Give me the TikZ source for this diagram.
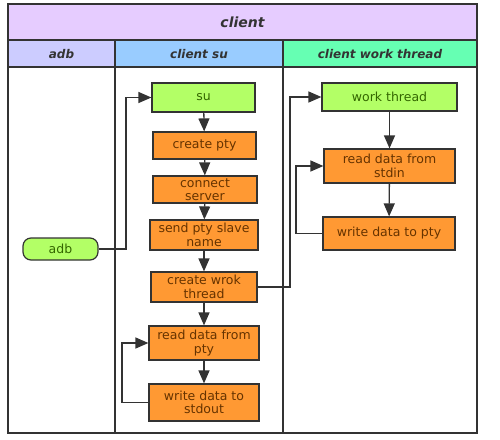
\documentclass[tikz,border=0pt]{standalone}
\usepackage{fontspec}
\setmainfont{DejaVu Sans}
\usetikzlibrary{arrows.meta}

\definecolor{titlebg}{HTML}{E6CCFF}
\definecolor{adbbg}{HTML}{CCCCFF}
\definecolor{subg}{HTML}{99CCFF}
\definecolor{workbg}{HTML}{66FFB3}
\definecolor{stepgreen}{HTML}{B3FF66}
\definecolor{steporange}{HTML}{FF9933}
\definecolor{framegray}{HTML}{333333}
\definecolor{greentext}{HTML}{336600}
\definecolor{orangetext}{HTML}{663300}

\begin{document}
\begin{tikzpicture}[x=1pt, y=-1pt,
    greenbox/.style={draw=framegray, line width=1.2pt, fill=stepgreen,
      text=greentext, font=\fontsize{12.5}{13.5}\selectfont, align=center,
      inner sep=0pt},
    orangebox/.style={draw=framegray, line width=1.2pt, fill=steporange,
      text=orangetext, font=\fontsize{12.5}{13.5}\selectfont, align=center,
      inner sep=0pt},
    flow/.style={draw=framegray, line width=1.3pt,
      -{Triangle[length=13pt, width=11pt]}},
    lanehead/.style={font=\fontsize{12}{13}\selectfont\bfseries\itshape,
      text=framegray}
  ]
  \useasboundingbox (0,0) rectangle (500,439);

  % Title band and lane headers
  \fill[titlebg] (8,4) rectangle (477,40);
  \fill[adbbg] (8,40) rectangle (115,67);
  \fill[subg] (115,40) rectangle (283,67);
  \fill[workbg] (283,40) rectangle (477,67);
  \node[font=\fontsize{14}{15}\selectfont\bfseries\itshape, text=framegray]
    (title) at (242.5,22) {client};
  \node[lanehead] (adblane) at (61.5,54) {adb};
  \node[lanehead] (sulane) at (199,54) {client su};
  \node[lanehead] (worklane) at (380,54) {client work thread};

  % Frame and lane borders
  \draw[framegray, line width=1.5pt] (8,4) rectangle (477,433);
  \draw[framegray, line width=1.5pt] (8,40) -- (477,40);
  \draw[framegray, line width=1.5pt] (8,67) -- (477,67);
  \draw[framegray, line width=1.5pt] (115,40) -- (115,433);
  \draw[framegray, line width=1.5pt] (283,40) -- (283,433);

  % adb lane
  \node[greenbox, rounded corners=8pt, minimum width=75pt, minimum height=22pt]
    (adb) at (60.5,249) {adb};

  % client su lane
  \node[greenbox, minimum width=103pt, minimum height=29pt]
    (su) at (203.5,97.5) {su};
  \node[orangebox, minimum width=103pt, minimum height=27pt]
    (cpty) at (204.5,145.5) {create pty};
  \node[orangebox, minimum width=104pt, minimum height=27pt]
    (conn) at (205,189.5) {connect\\server};
  \node[orangebox, minimum width=108pt, minimum height=30pt]
    (slave) at (204,235) {send pty slave\\name};
  \node[orangebox, minimum width=106pt, minimum height=30pt]
    (cwt) at (204,287) {create wrok\\thread};
  \node[orangebox, minimum width=110pt, minimum height=34pt]
    (rpty) at (204,343) {read data from\\pty};
  \node[orangebox, minimum width=110pt, minimum height=37pt]
    (wout) at (204,402.5) {write data to\\stdout};

  % client work thread lane
  \node[greenbox, minimum width=135pt, minimum height=28pt]
    (wt) at (389.5,97) {work thread};
  \node[orangebox, minimum width=131pt, minimum height=34pt]
    (rin) at (389.5,166) {read data from\\stdin};
  \node[orangebox, minimum width=132pt, minimum height=33pt]
    (wpty) at (389,233.5) {write data to pty};

  % connectors
  \draw[flow] (adb.east) -- (126,249) |- (su.west);
  \draw[flow] (su) -- (cpty);
  \draw[flow] (cpty) -- (conn);
  \draw[flow] (conn) -- (slave);
  \draw[flow] (slave) -- (cwt);
  \draw[flow] (cwt) -- (rpty);
  \draw[flow] (rpty) -- (wout);
  \draw[flow] (wout.west) -- (122,402.5) |- (rpty.west);
  \draw[flow] (cwt.east) -- (290,287) |- (wt.west);
  \draw[flow] (wt) -- (rin);
  \draw[flow] (rin) -- (wpty);
  \draw[flow] (wpty.west) -- (296,233.5) |- (rin.west);
\end{tikzpicture}
\end{document}
